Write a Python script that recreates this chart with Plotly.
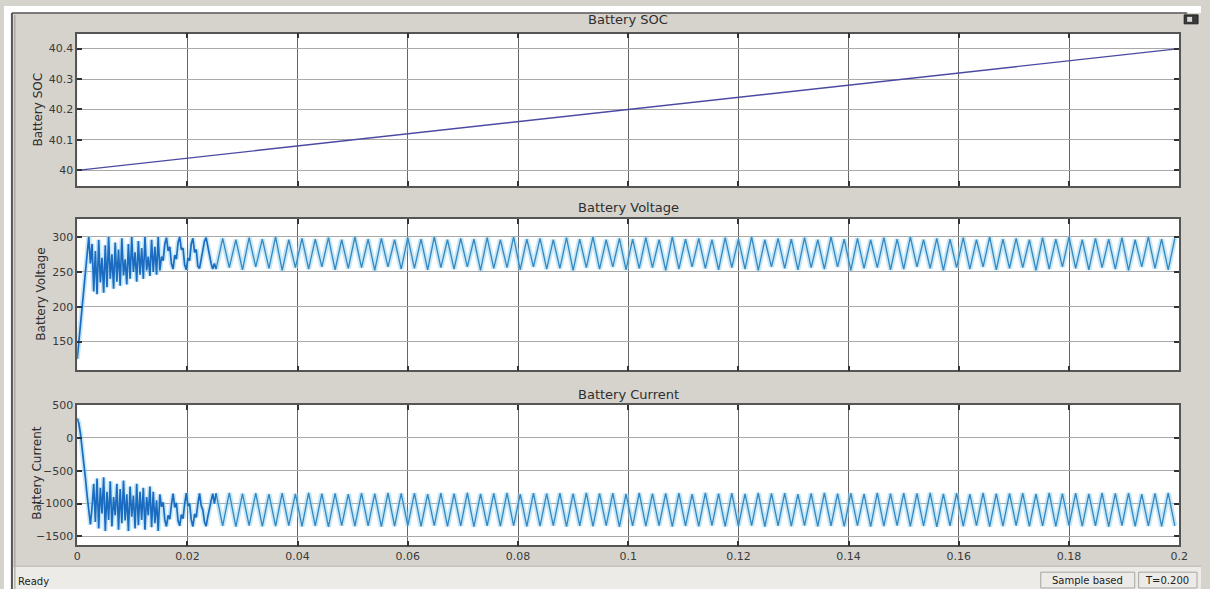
import numpy as np
import plotly.graph_objects as go

W, H = 1210, 589

# ---------------- data ----------------
SOC_TIME = [0.0, 0.02, 0.04, 0.06, 0.08, 0.10, 0.12, 0.14, 0.16, 0.18, 0.20]
SOC_VALUES = [40.0, 40.04, 40.08, 40.12, 40.16, 40.20, 40.24, 40.28, 40.32, 40.36, 40.40]

# start-up interval, logged every 0.3 ms
START_STEP = 0.0003
VOLT_START = [
    125, 150, 178, 205, 232, 258, 285, 300, 262,
    290, 222, 280, 218, 296, 235, 270, 220, 288, 228,
    300, 240, 275, 226, 292, 236, 282, 230, 298, 245,
    268, 232, 290, 240, 300, 250, 278, 236, 294, 246,
    284, 240, 300, 252, 272, 244, 296, 250, 286, 246, 300,
    252, 272, 266, 290, 299, 280, 286, 262,
    254, 274, 268, 292, 300, 282, 284, 260,
    253, 270, 266, 290, 298, 278, 282, 258,
    255, 268, 276, 294, 299, 286, 276, 262,
    254, 262,
]
CURR_START = [
    300, 220, 60, -150, -380, -620, -880, -1150, -1320,
    -1050, -700, -1280, -620, -1380, -760, -1150, -600, -1420, -820,
    -1250, -660, -1350, -900, -1180, -700, -1400, -780, -1300, -650,
    -1260, -860, -1420, -740, -1200, -880, -1380, -700, -1330, -820,
    -1250, -760, -1400, -900, -1180, -740, -1360, -820, -1300, -950, -1420,
    -860, -1050, -980, -1250, -1350, -1180, -1240, -1020,
    -850, -1060, -990, -1260, -1340, -1170, -1230, -1010,
    -840, -1040, -1000, -1250, -1350, -1160, -1210, -1000,
    -845, -1030, -1100, -1280, -1345, -1200, -1100, -960,
    -850, -1000,
]

# steady ripple, turning points every 1.2 ms from t = 25.2 ms
STEADY_T0 = 0.0252
STEADY_STEP = 0.0012
VOLT_STEADY = [
    254, 298, 256, 296, 253, 299, 257, 297, 255, 300,
    252, 296, 256, 298, 254, 297, 257, 299, 253, 296,
    255, 300, 256, 297, 252, 298, 257, 296, 254, 299,
    255, 297, 253, 300, 256, 296, 254, 298, 257, 297,
    252, 299, 255, 296, 256, 300, 253, 297, 257, 298,
    254, 296, 255, 299, 252, 297, 256, 300, 254, 296,
    257, 298, 253, 297, 255, 299, 256, 296, 252, 300,
    254, 297, 257, 298, 255, 296, 253, 299, 256, 297,
    254, 300, 252, 296, 257, 298, 255, 297, 253, 299,
    256, 296, 254, 300, 257, 297, 252, 298, 255, 296,
    256, 299, 253, 297, 254, 300, 257, 296, 255, 298,
    252, 297, 256, 299, 254, 296, 257, 300, 253, 297,
    255, 298, 256, 296, 252, 299, 254, 297, 257, 300,
    255, 296, 253, 298, 256, 297, 254, 299, 252, 296,
    257, 300, 255, 297, 253, 298,
]
CURR_STEADY = [
    -845, -1340, -838, -1352, -850, -1336, -842, -1348, -856, -1344,
    -840, -1338, -852, -1350, -836, -1342, -848, -1355, -844, -1336,
    -858, -1346, -840, -1340, -850, -1352, -838, -1344, -846, -1338,
    -842, -1350, -855, -1336, -840, -1348, -848, -1342, -836, -1354,
    -852, -1340, -844, -1346, -838, -1336, -856, -1350, -842, -1344,
    -848, -1338, -840, -1352, -850, -1342, -836, -1348, -846, -1336,
    -842, -1355, -854, -1340, -838, -1346, -850, -1338, -844, -1352,
    -840, -1342, -856, -1348, -836, -1336, -848, -1350, -842, -1344,
    -852, -1338, -838, -1354, -846, -1340, -840, -1346, -858, -1336,
    -844, -1350, -836, -1342, -850, -1348, -842, -1338, -854, -1352,
    -838, -1344, -848, -1336, -840, -1350, -846, -1342, -836, -1355,
    -852, -1340, -842, -1346, -856, -1338, -838, -1352, -850, -1344,
    -844, -1336, -840, -1348, -854, -1342, -836, -1350, -848, -1338,
    -842, -1346, -852, -1340, -838, -1354, -846, -1336, -840, -1348,
    -856, -1342, -844, -1350, -838, -1340,
]

X_TICKS = [0, 0.02, 0.04, 0.06, 0.08, 0.1, 0.12, 0.14, 0.16, 0.18, 0.2]
X_LABELS = ["0", "0.02", "0.04", "0.06", "0.08", "0.1", "0.12", "0.14", "0.16", "0.18", "0.2"]
SOC_TICKS = [40.0, 40.1, 40.2, 40.3, 40.4]
SOC_LABELS = ["40", "40.1", "40.2", "40.3", "40.4"]
VOLT_TICKS = [150, 200, 250, 300]
CURR_TICKS = [-1500, -1000, -500, 0, 500]

PANEL_TITLES = ["Battery SOC", "Battery Voltage", "Battery Current"]

# ---------------- time bases ----------------
t_start = np.arange(len(VOLT_START)) * START_STEP
t_steady = STEADY_T0 + np.arange(len(VOLT_STEADY)) * STEADY_STEP
t_curr_start = np.arange(len(CURR_START)) * START_STEP
t_curr_steady = STEADY_T0 + np.arange(len(CURR_STEADY)) * STEADY_STEP

# ---------------- styling helpers ----------------
FONT = "DejaVu Sans, Liberation Sans, Arial, sans-serif"
BG = "#d6d3cd"
LINE = "#3587bf"
LINE_DARK = "#1b6cc0"
HAZE = "rgba(150,212,240,0.55)"


def px_x(x):
    return x / W


def px_y(y):
    return 1 - y / H


X_DOM = [px_x(74), px_x(1188)]
Y_DOMS = [
    [px_y(182), px_y(28)],
    [px_y(368), px_y(215)],
    [px_y(545), px_y(403)],
]

fig = go.Figure()

# SOC
fig.add_trace(go.Scatter(x=SOC_TIME, y=SOC_VALUES, mode="lines",
                         line=dict(color="#4a4aa4", width=1.4),
                         xaxis="x", yaxis="y", hoverinfo="skip"))


def add_signal(t0, v0, t1, v1, xa, ya):
    t_all = np.concatenate([t0, t1])
    v_all = np.concatenate([np.asarray(v0, float), np.asarray(v1, float)])
    # soft halo under the whole record
    fig.add_trace(go.Scatter(x=t_all, y=v_all, mode="lines",
                             line=dict(color=HAZE, width=5),
                             xaxis=xa, yaxis=ya, hoverinfo="skip"))
    # steady part
    fig.add_trace(go.Scatter(x=t1, y=v1, mode="lines",
                             line=dict(color=LINE, width=1.3),
                             xaxis=xa, yaxis=ya))
    # start-up switching burst, joined to the first steady sample
    fig.add_trace(go.Scatter(x=np.append(t0, t1[0]), y=list(v0) + [v1[0]], mode="lines",
                             line=dict(color=LINE_DARK, width=1.7),
                             xaxis=xa, yaxis=ya))


add_signal(t_start, VOLT_START, t_steady, VOLT_STEADY, "x2", "y2")
add_signal(t_curr_start, CURR_START, t_curr_steady, CURR_STEADY, "x3", "y3")

tickfont = dict(family=FONT, size=11, color="#3a3a3a")


def xaxis(anchor, show_labels):
    return dict(domain=X_DOM, anchor=anchor, range=[0, 0.2],
                tickvals=X_TICKS, ticktext=X_LABELS, showticklabels=show_labels,
                ticks="inside", ticklen=5, tickcolor="#333", tickwidth=1.5,
                showgrid=True, gridcolor="#666666", gridwidth=1,
                showline=True, linecolor="#555", linewidth=1.5, mirror="ticks",
                zeroline=False, tickfont=tickfont, fixedrange=True)


def yaxis(anchor, dom, rng, vals, labels=None):
    d = dict(domain=dom, anchor=anchor, range=rng, tickvals=vals,
             ticks="inside", ticklen=5, tickcolor="#333", tickwidth=1.5,
             showgrid=True, gridcolor="#a9a9a9", gridwidth=1,
             showline=True, linecolor="#555", linewidth=1.5, mirror="ticks",
             zeroline=False, tickfont=tickfont, fixedrange=True)
    if labels is not None:
        d["ticktext"] = labels
    return d


shapes = [
    # white margin above and left of the scope window
    dict(type="rect", xref="paper", yref="paper", x0=0, x1=1, y0=px_y(7), y1=1,
         fillcolor="white", line_width=0, layer="below"),
    dict(type="rect", xref="paper", yref="paper", x0=0, x1=px_x(8), y0=0, y1=1,
         fillcolor="white", line_width=0, layer="below"),
    # window frame
    dict(type="line", xref="paper", yref="paper", x0=px_x(8), x1=px_x(8), y0=0, y1=px_y(7),
         line=dict(color="#555", width=2)),
    dict(type="line", xref="paper", yref="paper", x0=px_x(11), x1=px_x(11), y0=0, y1=px_y(9),
         line=dict(color="#9a9892", width=1)),
    dict(type="line", xref="paper", yref="paper", x0=px_x(8), x1=px_x(1196), y0=px_y(7), y1=px_y(7),
         line=dict(color="#555", width=1.5)),
    # status bar
    dict(type="rect", xref="paper", yref="paper", x0=px_x(9), x1=1, y0=0, y1=px_y(566),
         fillcolor="#ecebe8", line_width=0, layer="below"),
    dict(type="line", xref="paper", yref="paper", x0=px_x(9), x1=1, y0=px_y(566), y1=px_y(566),
         line=dict(color="#b8b5ae", width=1)),
    dict(type="rect", xref="paper", yref="paper", x0=px_x(1048), x1=px_x(1143), y0=px_y(588), y1=px_y(572),
         fillcolor="rgba(0,0,0,0)", line=dict(color="#a8a6a0", width=1)),
    dict(type="rect", xref="paper", yref="paper", x0=px_x(1147), x1=px_x(1206), y0=px_y(588), y1=px_y(572),
         fillcolor="rgba(0,0,0,0)", line=dict(color="#a8a6a0", width=1)),
    # small dock icon at the top right
    dict(type="rect", xref="paper", yref="paper", x0=px_x(1193), x1=px_x(1207), y0=px_y(18), y1=px_y(9),
         fillcolor="#3a3a3a", line=dict(color="#222", width=1)),
    dict(type="rect", xref="paper", yref="paper", x0=px_x(1196), x1=px_x(1201), y0=px_y(16), y1=px_y(11),
         fillcolor="#d8d8d8", line_width=0),
]

annotations = []
title_y = [14, 204, 392]
for txt, ty in zip(PANEL_TITLES, title_y):
    annotations.append(dict(text=txt, x=px_x(631), y=px_y(ty), xref="paper", yref="paper",
                            showarrow=False, xanchor="center", yanchor="middle",
                            font=dict(family=FONT, size=13, color="#2e2e2e")))
label_pos = [(34, 105), (37, 291), (34, 472)]
for txt, (lx, ly) in zip(PANEL_TITLES, label_pos):
    annotations.append(dict(text=txt, x=px_x(lx), y=px_y(ly), xref="paper", yref="paper",
                            showarrow=False, textangle=-90, xanchor="center", yanchor="middle",
                            font=dict(family=FONT, size=12, color="#2e2e2e")))
annotations += [
    dict(text="Ready", x=px_x(12), y=px_y(581), xref="paper", yref="paper", showarrow=False,
         xanchor="left", yanchor="middle", font=dict(family=FONT, size=10, color="#222")),
    dict(text="Sample based", x=px_x(1095), y=px_y(580), xref="paper", yref="paper", showarrow=False,
         xanchor="center", yanchor="middle", font=dict(family=FONT, size=10, color="#222")),
    dict(text="T=0.200", x=px_x(1176), y=px_y(580), xref="paper", yref="paper", showarrow=False,
         xanchor="center", yanchor="middle", font=dict(family=FONT, size=10, color="#222")),
]

fig.update_layout(
    width=W, height=H, margin=dict(l=0, r=0, t=0, b=0),
    paper_bgcolor=BG, plot_bgcolor="white", showlegend=False,
    xaxis=xaxis("y", False), xaxis2=xaxis("y2", False), xaxis3=xaxis("y3", True),
    yaxis=yaxis("x", Y_DOMS[0], [39.948, 40.449], SOC_TICKS, SOC_LABELS),
    yaxis2=yaxis("x2", Y_DOMS[1], [109, 326], VOLT_TICKS),
    yaxis3=yaxis("x3", Y_DOMS[2], [-1640, 505], CURR_TICKS),
    shapes=shapes, annotations=annotations,
)

fig.write_html("out.html")
